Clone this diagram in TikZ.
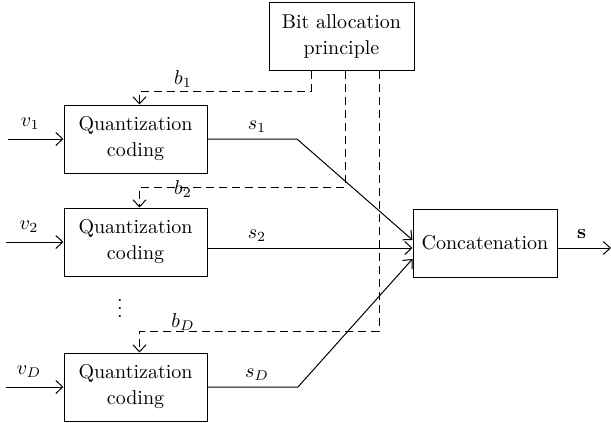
\documentclass[tikz,border=0pt]{standalone}
\usetikzlibrary{arrows.meta}

\begin{document}
\begin{tikzpicture}[x=0.5pt,y=-0.5pt,line width=0.5pt,
    >={Straight Barb[length=3.5pt,width=6.5pt]},
    every node/.style={font=\fontsize{10}{13}\selectfont},
    block/.style={draw,align=center,minimum width=71.5pt,minimum height=34pt,inner sep=0pt},
    bitline/.style={dashed,dash pattern=on 4pt off 2.5pt,->}]
  \useasboundingbox (0,0) rectangle (611,423);
  % Blocks
  \node[block,minimum width=72.5pt] (bit) at (341.5,36.5) {Bit allocation\\principle};
  \node[block] (q1) at (135.5,139) {Quantization\\coding};
  \node[block] (q2) at (135.5,242) {Quantization\\coding};
  \node[block] (qD) at (135.5,387) {Quantization\\coding};
  \node[block,minimum width=72pt] (cat) at (485,243) {Concatenation};
  \node (dots) at (120,302) {$\vdots$};
  % Inputs
  \coordinate (in1) at (8,139);
  \coordinate (in2) at (6,242);
  \coordinate (inD) at (6,387);
  \draw[->] (in1) -- (q1.west) node[pos=0.4,above=1pt]{$v_1$};
  \draw[->] (in2) -- (q2.west) node[pos=0.4,above=1pt]{$v_2$};
  \draw[->] (inD) -- (qD.west) node[pos=0.4,above=1pt]{$v_D$};
  % Bit allocation
  \coordinate (c1) at (139.5,91);
  \coordinate (c2) at (139.5,187);
  \coordinate (cD) at (139.5,331);
  \draw[bitline] ([xshift=-15.25pt]bit.south) |- (c1) -- (c1 |- q1.north);
  \draw[bitline] ([xshift=1.75pt]bit.south) |- (c2) -- (c2 |- q2.north);
  \draw[bitline] ([xshift=18.75pt]bit.south) |- (cD) -- (cD |- qD.north);
  \node (b1) at (183,79) {$b_1$};
  \node (b2) at (183,189) {$b_2$};
  \node (bD) at (183,322) {$b_D$};
  % Outputs
  \coordinate (k1) at (297,139);
  \coordinate (kD) at (298,387);
  \draw[->] (q1.east) -- (k1) -- ([yshift=1.5pt]cat.west);
  \draw[->] ([yshift=-3pt]q2.east) -- ([yshift=-2.5pt]cat.west);
  \draw[->] (qD.east) -- (kD) -- ([yshift=-8pt]cat.west);
  \node (s1) at (257,127) {$s_1$};
  \node (s2) at (257,236) {$s_2$};
  \node (sD) at (257,375) {$s_D$};
  \coordinate (out) at (611,248);
  \draw[->] (cat.east |- out) -- (out) node[pos=0.45,above=1pt]{$\mathbf{s}$};
\end{tikzpicture}
\end{document}
